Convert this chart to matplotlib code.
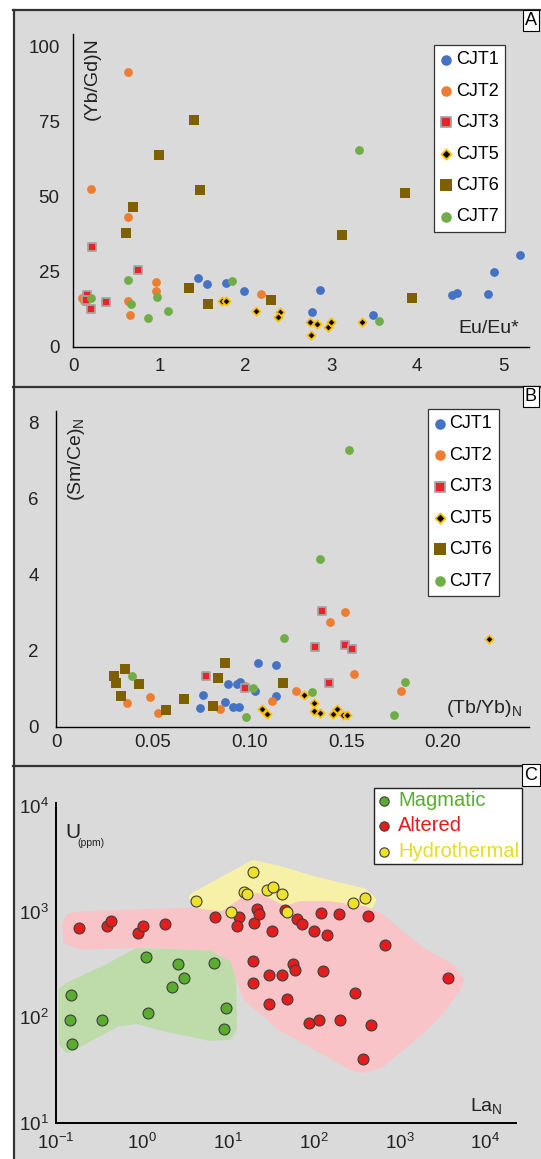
import matplotlib
matplotlib.use('Agg')
import matplotlib.pyplot as plt
from matplotlib.lines import Line2D
from matplotlib.patches import Rectangle
from matplotlib.ticker import NullLocator

plt.rcParams['font.family'] = ['Liberation Sans', 'DejaVu Sans']
plt.rcParams['mathtext.fontset'] = 'custom'
plt.rcParams['mathtext.rm'] = 'Liberation Sans'
plt.rcParams['mathtext.it'] = 'Liberation Sans:italic'
plt.rcParams['axes.unicode_minus'] = False

# ---- panel A : Eu/Eu* vs (Yb/Gd)N
a_cjt1_x = [1.45, 1.55, 1.77, 1.98, 2.87, 2.78, 3.48, 4.40, 4.46, 4.82, 4.89, 5.20]
a_cjt1_y = [22.7, 20.8, 21.1, 18.5, 18.9, 11.5, 10.6, 17.1, 18.0, 17.5, 25.0, 30.6]
a_cjt2_x = [0.63, 0.21, 0.63, 0.96, 0.96, 0.63, 0.66, 2.18, 0.10, 0.12]
a_cjt2_y = [91.3, 52.3, 43.2, 21.4, 18.6, 15.2, 10.6, 17.5, 16.2, 15.3]
a_cjt3_x = [0.22, 0.75, 0.16, 0.15, 0.21, 0.38]
a_cjt3_y = [33.0, 25.6, 17.3, 15.5, 12.6, 14.8]
a_cjt5_x = [1.73, 1.78, 2.13, 2.40, 2.38, 2.75, 2.83, 2.76, 2.96, 3.00, 3.36]
a_cjt5_y = [15.3, 15.3, 12.0, 11.6, 10.0, 8.3, 7.7, 4.0, 6.6, 8.3, 8.3]
a_cjt6_x = [1.40, 0.99, 1.47, 0.69, 0.61, 3.86, 3.13, 1.34, 1.57, 2.30, 3.94]
a_cjt6_y = [75.4, 63.9, 52.0, 46.5, 37.7, 51.2, 37.1, 19.5, 14.3, 15.6, 16.2]
a_cjt7_x = [3.32, 0.64, 0.67, 0.20, 0.87, 0.97, 1.10, 1.84, 3.56]
a_cjt7_y = [65.3, 22.1, 14.2, 16.2, 9.6, 16.6, 12.0, 21.7, 8.7]

# ---- panel B : (Tb/Yb)N vs (Sm/Ce)N
b_cjt1_x = [0.0743, 0.0761, 0.0873, 0.0889, 0.0913, 0.0945, 0.0936, 0.0952, 0.1030, 0.1043, 0.1135, 0.1135]
b_cjt1_y = [0.48, 0.84, 0.65, 1.12, 0.51, 0.51, 1.12, 1.18, 0.94, 1.68, 1.61, 0.81]
b_cjt2_x = [0.0367, 0.0485, 0.0526, 0.0845, 0.0979, 0.1118, 0.1242, 0.1417, 0.1494, 0.1542, 0.1786]
b_cjt2_y = [0.61, 0.78, 0.37, 0.46, 1.08, 0.68, 0.95, 2.75, 3.02, 1.38, 0.94]
b_cjt3_x = [0.0774, 0.0977, 0.1340, 0.1376, 0.1410, 0.1492, 0.1528]
b_cjt3_y = [1.34, 1.01, 2.09, 3.04, 1.15, 2.16, 2.04]
b_cjt5_x = [0.1282, 0.1064, 0.1091, 0.1335, 0.1335, 0.1364, 0.1430, 0.1451, 0.1483, 0.1504, 0.2237]
b_cjt5_y = [0.84, 0.46, 0.34, 0.61, 0.41, 0.37, 0.34, 0.46, 0.31, 0.31, 2.31]
b_cjt6_x = [0.0301, 0.0310, 0.0333, 0.0355, 0.0426, 0.0569, 0.0661, 0.0813, 0.0836, 0.0873, 0.1171]
b_cjt6_y = [1.32, 1.15, 0.82, 1.51, 1.11, 0.44, 0.74, 0.54, 1.28, 1.68, 1.15]
b_cjt7_x = [0.1515, 0.1364, 0.0392, 0.1020, 0.0984, 0.1176, 0.1323, 0.1747, 0.1807]
b_cjt7_y = [7.28, 4.41, 1.32, 1.01, 0.25, 2.34, 0.91, 0.31, 1.18]

series_names = ['CJT1', 'CJT2', 'CJT3', 'CJT5', 'CJT6', 'CJT7']

# ---- panel C : La_N vs U (ppm), log-log
mag_x = [1.13, 2.64, 6.9, 3.09, 2.27, 0.149, 0.145, 0.345, 1.19, 0.156, 9.46, 9.12]
mag_y = [371, 321, 326, 234, 193, 164, 93.7, 93.7, 111, 55.5, 122, 78]
alt_x = [0.184, 0.393, 0.44, 0.91, 1.02, 1.84, 7.2, 13.6, 12.8, 20, 21.9, 23, 33, 46, 63.6,
         73.6, 100, 122, 143, 198, 435, 671, 19.8, 19.8, 30.3, 43.1, 56.9, 60.7, 127, 30.3,
         49.1, 301, 89.5, 116, 202, 469, 375, 3680]
alt_y = [695, 727, 822, 624, 727, 759, 885, 898, 738, 788, 1062, 951, 661, 1030, 859,
         764, 661, 972, 597, 959, 918, 480, 341, 210, 250, 250, 318, 282, 277, 133,
         148, 172, 87.7, 94.5, 94.5, 84.7, 40.3, 237]
hyd_x = [19.8, 15.3, 16.9, 28.4, 33.9, 43.1, 4.24, 10.8, 49.1, 287, 396]
hyd_y = [2404, 1538, 1462, 1607, 1717, 1462, 1264, 1002, 994, 1211, 1362]

# field outlines (data units)
mag_env_x = [0.394, 0.88, 6.2, 8.1, 9.8, 11.2, 11.5, 10.1, 6.2, 1.96, 0.88, 0.51, 0.206, 0.138, 0.121, 0.121, 0.146]
mag_env_y = [290, 414, 393, 345, 323, 223, 80, 67, 65.6, 80, 95, 89.6, 60, 50.5, 58, 180, 200]
alt_env_x = [0.131, 0.146, 0.206, 1.24, 3.64, 8.8, 15.9, 22.5, 46.4, 69.4, 155, 396, 593, 1730,
             4080, 5060, 4430, 2960, 1730, 593, 376, 288, 98, 40.6, 28.7, 16.8, 13.9, 10.6,
             8.8, 6.2, 1.24, 0.191, 0.138]
alt_env_y = [743, 885, 925, 973, 994, 925, 1282, 1370, 1030, 1150, 1150, 1030, 885, 430,
             290, 223, 180, 116, 75, 36.3, 32.6, 34, 56, 83, 108, 154, 238, 345,
             430, 459, 501, 480, 535]
hyd_env_x = [3.95, 19.7, 40.6, 98, 376, 479, 396, 155, 53, 13.9, 5.4]
hyd_env_y = [1370, 2820, 2470, 1990, 1530, 1282, 986, 1077, 1125, 986, 1100]

group_names = ['Magmatic', 'Altered', 'Hydrothermal']

BG = '#dadada'
W, H = 541, 1159


def fx(px):
    return px / W


def fy(py):
    return 1 - py / H


def make_axes(left, top, right, bottom):
    ax = fig.add_axes([fx(left), fy(bottom), (right - left) / W, (bottom - top) / H])
    ax.set_facecolor('none')
    ax.spines['top'].set_visible(False)
    ax.spines['right'].set_visible(False)
    for s in ['left', 'bottom']:
        ax.spines[s].set_color('black')
        ax.spines[s].set_linewidth(1.0)
    ax.tick_params(length=0, labelsize=13.5, colors='#222222')
    return ax


fig = plt.figure(figsize=(W / 100, H / 100), dpi=100)
fig.patches.append(Rectangle((fx(14), 0), 1 - fx(14), fy(10), transform=fig.transFigure,
                             facecolor=BG, edgecolor='none', zorder=-10))
for yy in [10, 387, 766]:
    fig.add_artist(Line2D([fx(13), 1], [fy(yy), fy(yy)], color='#333333', lw=1.6))
fig.add_artist(Line2D([fx(14), fx(14)], [0, fy(10)], color='#333333', lw=1.6))

for lab, yc in [('A', 20.5), ('B', 396.5), ('C', 775)]:
    fig.text(fx(531), fy(yc), lab, ha='center', va='center', fontsize=13,
             bbox=dict(boxstyle='square,pad=0.12', fc='white', ec='black', lw=0.8))

styles = [
    dict(marker='o', s=40, c='#4472c4', linewidths=0),
    dict(marker='o', s=40, c='#ed7d31', linewidths=0),
    dict(marker='s', s=34, c='#e8232a', edgecolors='#a5a5a5', linewidths=1.3),
    dict(marker='D', s=18, c='black', edgecolors='#ffc000', linewidths=1.3),
    dict(marker='s', s=50, c='#7f6000', linewidths=0),
    dict(marker='o', s=40, c='#70ad47', linewidths=0),
]


def legend_ab(ax, anchor):
    leg = ax.legend(loc='upper left', bbox_to_anchor=anchor, borderaxespad=0, frameon=True,
                    fancybox=False, edgecolor='#333333', framealpha=1, fontsize=13,
                    labelspacing=0.8, handlelength=0.6, handletextpad=0.25,
                    borderpad=0.35, markerscale=1.2)
    leg.get_frame().set_linewidth(0.9)


# ---------------- panel A
axA = make_axes(73.4, 34, 529, 346.7)
dataA = [(a_cjt1_x, a_cjt1_y), (a_cjt2_x, a_cjt2_y), (a_cjt3_x, a_cjt3_y),
         (a_cjt5_x, a_cjt5_y), (a_cjt6_x, a_cjt6_y), (a_cjt7_x, a_cjt7_y)]
for (xs, ys), name, st in zip(dataA, series_names, styles):
    axA.scatter(xs, ys, label=name, zorder=3, **st)
axA.set_xlim(0, 5.3)
axA.set_ylim(0, 104)
axA.set_xticks([0, 1, 2, 3, 4, 5])
axA.set_yticks([0, 25, 50, 75, 100])
axA.tick_params(axis='y', pad=10)
axA.tick_params(axis='x', pad=8)
axA.text(0.041, 0.99, '(Yb/Gd)N', transform=axA.transAxes, rotation=90, ha='center',
         va='top', fontsize=14, color='#222222')
axA.text(0.978, 0.057, 'Eu/Eu*', transform=axA.transAxes, ha='right', va='center',
         fontsize=14, color='#222222')
legend_ab(axA, (0.7915, 0.965))

# ---------------- panel B
axB = make_axes(56.2, 411, 529, 726.7)
dataB = [(b_cjt1_x, b_cjt1_y), (b_cjt2_x, b_cjt2_y), (b_cjt3_x, b_cjt3_y),
         (b_cjt5_x, b_cjt5_y), (b_cjt6_x, b_cjt6_y), (b_cjt7_x, b_cjt7_y)]
for (xs, ys), name, st in zip(dataB, series_names, styles):
    axB.scatter(xs, ys, label=name, zorder=3, **st)
axB.set_xlim(0, 0.2446)
axB.set_ylim(0, 8.3)
axB.set_xticks([0, 0.05, 0.10, 0.15, 0.20])
axB.set_xticklabels(['0', '0.05', '0.10', '0.15', '0.20'])
axB.set_yticks([0, 2, 4, 6, 8])
axB.tick_params(axis='y', pad=12.5)
axB.tick_params(axis='x', pad=5)
axB.text(0.043, 0.978, r'(Sm/Ce)$_\mathregular{N}$', transform=axB.transAxes, rotation=90,
         ha='center', va='top', fontsize=14, color='#222222')
axB.text(0.985, 0.059, r'(Tb/Yb)$_\mathregular{N}$', transform=axB.transAxes, ha='right',
         va='center', fontsize=14, color='#222222')
legend_ab(axB, (0.786, 1.006))

# ---------------- panel C
axC = make_axes(55.9, 803, 515.5, 1123)
axC.set_xscale('log')
axC.set_yscale('log')
axC.spines['left'].set_linewidth(1.4)
axC.spines['bottom'].set_linewidth(1.4)

axC.fill(hyd_env_x, hyd_env_y, facecolor='#f7f1a8', edgecolor='#f7f1a8', lw=6,
         joinstyle='round', zorder=1)
axC.fill(alt_env_x, alt_env_y, facecolor='#f8c4c8', edgecolor='#f8c4c8', lw=6,
         joinstyle='round', zorder=1.1)
axC.fill(mag_env_x, mag_env_y, facecolor='#bddcaa', edgecolor='#bddcaa', lw=6,
         joinstyle='round', zorder=1.2)

group_colors = ['#5aac2e', '#e51c1c', '#eee12a']
text_colors = ['#5aac2e', '#e51c1c', '#e6dc2a']
for (xs, ys), name, col in zip([(mag_x, mag_y), (alt_x, alt_y), (hyd_x, hyd_y)],
                               group_names, group_colors):
    axC.scatter(xs, ys, s=62, c=col, edgecolors='#3d3d3d', linewidths=0.8, label=name, zorder=3)

axC.set_xlim(0.1, 10 ** 4.35)
axC.set_ylim(10, 10 ** 4.03)
axC.set_xticks([0.1, 1, 10, 100, 1000, 10000])
axC.set_yticks([10, 100, 1000, 10000])
axC.xaxis.set_minor_locator(NullLocator())
axC.yaxis.set_minor_locator(NullLocator())
axC.tick_params(axis='y', pad=5)
axC.tick_params(axis='x', pad=7)
axC.text(0.021, 0.909, 'U', transform=axC.transAxes, ha='left', va='center', fontsize=15,
         color='#222222')
axC.text(0.046, 0.876, '(ppm)', transform=axC.transAxes, ha='left', va='center', fontsize=7.5,
         color='#222222')
axC.text(0.971, 0.053, r'La$_\mathregular{N}$', transform=axC.transAxes, ha='right',
         va='center', fontsize=14, color='#222222')

legC = axC.legend(loc='upper left', bbox_to_anchor=(0.692, 1.047), borderaxespad=0,
                  frameon=True, fancybox=False, edgecolor='#222222', framealpha=1,
                  fontsize=14.5, labelspacing=0.32, handlelength=0.7, handletextpad=0.35,
                  borderpad=0.15, markerscale=0.85)
legC.get_frame().set_linewidth(1.0)
for t, c in zip(legC.get_texts(), text_colors):
    t.set_color(c)

fig.savefig('out.png', dpi=100, facecolor='white')
